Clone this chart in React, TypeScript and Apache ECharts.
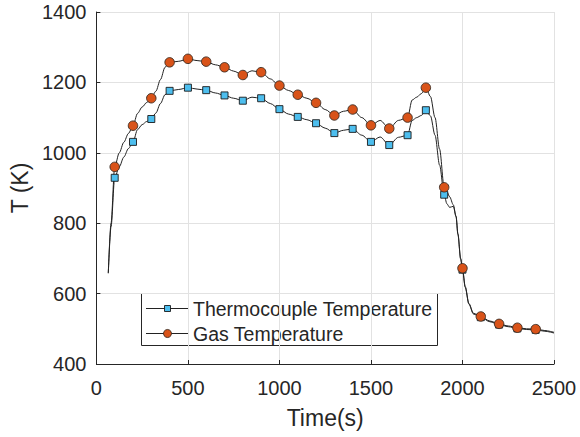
import React, { useEffect, useRef } from "react";
import * as echarts from "echarts";

const FONT = '"Liberation Sans", Arial, Helvetica, sans-serif';

const xTicks = [0, 500, 1000, 1500, 2000, 2500];
const yTicks = [400, 600, 800, 1000, 1200, 1400];

const curveTimes = [65, 80, 100, 125, 150, 175, 200, 225, 250, 275, 300, 325, 350, 375, 400, 450, 500, 550, 600, 650, 700, 750, 800, 850, 900, 950, 1000, 1050, 1100, 1150, 1200, 1250, 1300, 1350, 1400, 1450, 1500, 1550, 1600, 1650, 1700, 1725, 1750, 1775, 1800, 1825, 1850, 1875, 1900, 1915, 1930, 1950, 1965, 1975, 1990, 2000, 2015, 2035, 2060, 2100, 2150, 2200, 2250, 2300, 2350, 2400, 2450, 2500];

const gasCurve = [658, 800, 960,
  1000, 1030, 1055, 1077,
  1112, 1130, 1143, 1155,
  1175, 1208, 1243, 1257,
  1260, 1267, 1262, 1259,
  1250, 1243, 1232, 1221,
  1233, 1229, 1210, 1191,
  1177, 1165, 1155, 1142,
  1123, 1106, 1118, 1123,
  1100, 1078, 1092, 1069,
  1092, 1100, 1150, 1158,
  1168, 1185, 1160, 1100,
  1010, 902, 890, 875,
  852, 820, 770, 700,
  672, 620, 572, 544,
  535, 522, 514, 508,
  503, 500, 499, 495,
  490];

const thermoCurve = [658, 790, 929,
  960, 988, 1012, 1031,
  1066, 1080, 1089, 1096,
  1113, 1140, 1165, 1176,
  1180, 1185, 1181, 1178,
  1170, 1163, 1155, 1148,
  1158, 1155, 1140, 1124,
  1110, 1102, 1094, 1084,
  1070, 1056, 1064, 1068,
  1050, 1031, 1045, 1022,
  1044, 1050, 1092, 1100,
  1106, 1121, 1105, 1050,
  965, 881, 855, 845,
  848, 818, 768, 698,
  668, 618, 570, 542,
  533, 520, 512, 506,
  501, 498, 497, 493,
  488];

const markerTimes = [100, 200, 300, 400, 500, 600, 700, 800, 900, 1000, 1100, 1200, 1300, 1400, 1500, 1600, 1700, 1800, 1900, 2000, 2100, 2200, 2300, 2400];
const gasMarkers = [960, 1077, 1155, 1257, 1267, 1259, 1243, 1221, 1229, 1191, 1165, 1142, 1106, 1123, 1078, 1069, 1100, 1185, 902, 672, 535, 514, 503, 499];
const thermoMarkers = [929, 1031, 1096, 1176, 1185, 1178, 1163, 1148, 1155, 1124, 1102, 1084, 1056, 1068, 1031, 1022, 1050, 1121, 881, 668, 533, 512, 501, 497];

const seriesNames = ["Thermocouple Temperature", "Gas Temperature"];

const BLUE = "#4DBEEE";
const ORANGE = "#D95319";
const AXIS = "#262626";
const LINE = "#222222";

export default function App() {
  const ref = useRef<HTMLDivElement>(null);
  useEffect(() => {
    document.body.style.margin = "0";
    if (!ref.current) return;
    const chart = echarts.init(ref.current, null, { renderer: "svg" });
    const pairs = (ts: number[], vs: number[]) => ts.map((t, i) => [t, vs[i]]);
    const axisCommon = {
      type: "value" as const,
      nameLocation: "middle" as const,
      axisLine: { show: true, onZero: false, lineStyle: { color: AXIS, width: 1 } },
      axisTick: { show: true, inside: true, length: 4, lineStyle: { color: AXIS } },
      splitLine: { show: true, lineStyle: { color: "#e2e2e2", width: 1 } },
    };
    const plain = (v: number) => String(v);
    chart.setOption({
      animation: false,
      grid: { left: 96, right: 26, top: 12, bottom: 73, containLabel: false },
      xAxis: {
        ...axisCommon,
        min: xTicks[0],
        max: xTicks[xTicks.length - 1],
        interval: xTicks[1] - xTicks[0],
        name: "Time(s)",
        nameGap: 42,
        nameTextStyle: { fontSize: 23, color: AXIS, fontFamily: FONT },
        axisLabel: { fontSize: 20, color: AXIS, margin: 14, fontFamily: FONT, formatter: plain },
      },
      yAxis: {
        ...axisCommon,
        min: yTicks[0],
        max: yTicks[yTicks.length - 1],
        interval: yTicks[1] - yTicks[0],
        name: "T (K)",
        nameGap: 56,
        nameTextStyle: { fontSize: 23, color: AXIS, fontFamily: FONT },
        axisLabel: { fontSize: 20, color: AXIS, margin: 10, fontFamily: FONT, formatter: plain },
      },
      series: [
        {
          type: "line",
          name: seriesNames[0] + " curve",
          data: pairs(curveTimes, thermoCurve),
          showSymbol: false,
          symbol: "none",
          smooth: 0.3,
          smoothMonotone: "x",
          lineStyle: { color: LINE, width: 1 },
          z: 2,
        },
        {
          type: "line",
          name: seriesNames[1] + " curve",
          data: pairs(curveTimes, gasCurve),
          showSymbol: false,
          symbol: "none",
          smooth: 0.3,
          smoothMonotone: "x",
          lineStyle: { color: LINE, width: 1 },
          z: 2,
        },
        {
          type: "scatter",
          name: seriesNames[0],
          data: pairs(markerTimes, thermoMarkers),
          symbol: "rect",
          symbolSize: 7,
          itemStyle: { color: BLUE, borderColor: "#1a1a1a", borderWidth: 0.9, opacity: 1 },
          z: 3,
        },
        {
          type: "scatter",
          name: seriesNames[1],
          data: pairs(markerTimes, gasMarkers),
          symbol: "circle",
          symbolSize: 9.5,
          itemStyle: { color: ORANGE, borderColor: "#3a2a20", borderWidth: 0.9, opacity: 1 },
          z: 4,
        },
      ],
      graphic: [
        {
          type: "group",
          z: 100,
          children: [
            { type: "rect", shape: { x: 141.5, y: 293.5, width: 296, height: 52 }, style: { fill: "#ffffff", stroke: AXIS, lineWidth: 1 } },
            { type: "line", shape: { x1: 146, y1: 308.5, x2: 189, y2: 308.5 }, style: { stroke: LINE, lineWidth: 1 } },
            { type: "rect", shape: { x: 164.5, y: 305.5, width: 6, height: 6 }, style: { fill: BLUE, stroke: "#1a1a1a", lineWidth: 0.9 } },
            { type: "text", x: 193, y: 309, style: { text: seriesNames[0], fontSize: 19.5, fontFamily: FONT, fill: AXIS, verticalAlign: "middle", align: "left" } },
            { type: "line", shape: { x1: 146, y1: 333.5, x2: 189, y2: 333.5 }, style: { stroke: LINE, lineWidth: 1 } },
            { type: "circle", shape: { cx: 167.5, cy: 333.5, r: 4 }, style: { fill: ORANGE, stroke: "#3a2a20", lineWidth: 0.9 } },
            { type: "text", x: 193, y: 334, style: { text: seriesNames[1], fontSize: 19.5, fontFamily: FONT, fill: AXIS, verticalAlign: "middle", align: "left" } },
          ],
        },
      ],
    });
    return () => chart.dispose();
  }, []);
  return <div ref={ref} style={{ position: "absolute", left: 0, top: 0, width: 580, height: 437, background: "#fff" }} />;
}
